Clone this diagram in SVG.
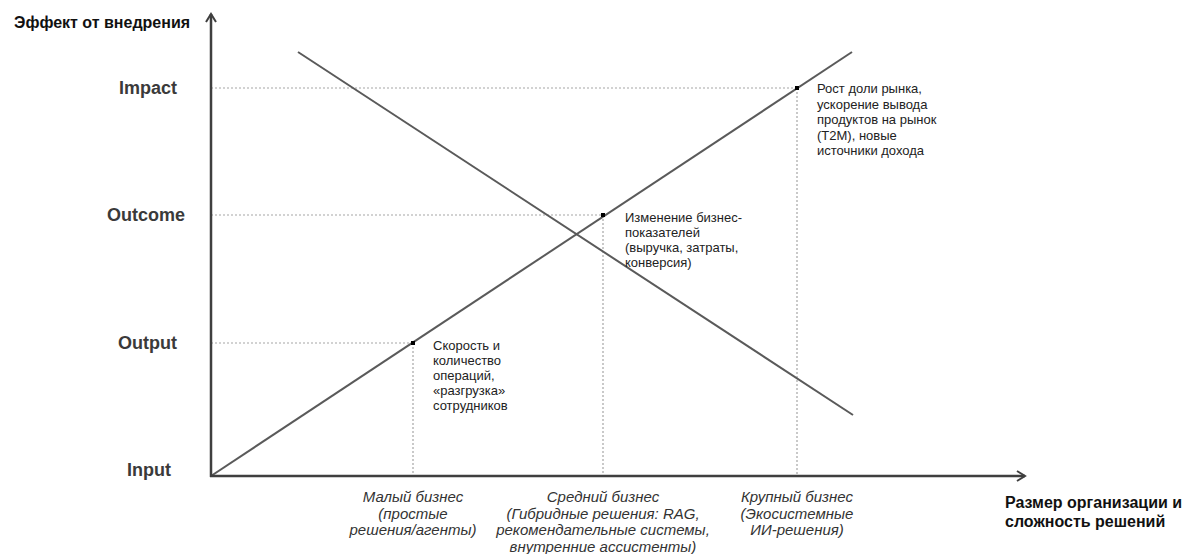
<svg xmlns="http://www.w3.org/2000/svg" width="1187" height="554" viewBox="0 0 1187 554">
<defs>
<style>
.axis{stroke:#3f3f3f;stroke-width:2.5;fill:none}
.line{stroke:#5a5a5a;stroke-width:2;fill:none}
.guide{stroke:#a6a6a6;stroke-width:1.2;stroke-dasharray:2,2;fill:none}
.lvl{font-family:"Liberation Sans",Arial,sans-serif;font-weight:bold;font-size:18px;fill:#3a3a3a;text-anchor:end}
.title{font-family:"Liberation Sans",Arial,sans-serif;font-weight:bold;font-size:16px;fill:#111}
.note{font-family:"Liberation Sans",Arial,sans-serif;font-size:13px;fill:#222}
.cat{font-family:"Liberation Sans",Arial,sans-serif;font-style:italic;font-size:15px;fill:#333;text-anchor:middle}
.pt{fill:#000}
</style>
<marker id="arr" viewBox="0 0 12 12" refX="10" refY="6" markerWidth="12" markerHeight="12" markerUnits="userSpaceOnUse" orient="auto">
<path d="M2,1 L10,6 L2,11" fill="none" stroke="#3f3f3f" stroke-width="2"/>
</marker>
</defs>
<g id="connectors">
<line class="guide" x1="211" y1="88" x2="797" y2="88"/>
<line class="guide" x1="211" y1="215" x2="603" y2="215"/>
<line class="guide" x1="211" y1="343" x2="413" y2="343"/>
<line class="guide" x1="797" y1="88" x2="797" y2="476"/>
<line class="guide" x1="603" y1="215" x2="603" y2="476"/>
<line class="guide" x1="413" y1="343" x2="413" y2="476"/>
<line class="line" x1="211" y1="476" x2="852" y2="52"/>
<line class="line" x1="298" y1="52" x2="853" y2="415"/>
<line class="axis" x1="211" y1="477" x2="211" y2="14" marker-end="url(#arr)"/>
<line class="axis" x1="210" y1="476" x2="1025" y2="476" marker-end="url(#arr)"/>
</g>
<g id="axis-y-title"><text class="title" x="14" y="28">Эффект от внедрения</text></g>
<g id="axis-x-title">
<text class="title" x="1005" y="508">Размер организации и</text>
<text class="title" x="1005" y="527">сложность решений</text>
</g>
<g id="level-impact"><text class="lvl" x="177" y="94">Impact</text></g>
<g id="level-outcome"><text class="lvl" x="185" y="221">Outcome</text></g>
<g id="level-output"><text class="lvl" x="177" y="349">Output</text></g>
<g id="level-input"><text class="lvl" x="171" y="476">Input</text></g>
<g id="point-small">
<rect class="pt" x="411" y="341" width="4" height="4"/>
<text class="note" x="433" y="350">Скорость и</text>
<text class="note" x="433" y="365">количество</text>
<text class="note" x="433" y="380">операций,</text>
<text class="note" x="433" y="395">«разгрузка»</text>
<text class="note" x="433" y="410">сотрудников</text>
</g>
<g id="point-medium">
<rect class="pt" x="601" y="213" width="4" height="4"/>
<text class="note" x="625" y="222">Изменение бизнес-</text>
<text class="note" x="625" y="237">показателей</text>
<text class="note" x="625" y="252">(выручка, затраты,</text>
<text class="note" x="625" y="267">конверсия)</text>
</g>
<g id="point-large">
<rect class="pt" x="795" y="86" width="4" height="4"/>
<text class="note" x="817" y="93">Рост доли рынка,</text>
<text class="note" x="817" y="108.5">ускорение вывода</text>
<text class="note" x="817" y="124">продуктов на рынок</text>
<text class="note" x="817" y="139.5">(T2M), новые</text>
<text class="note" x="817" y="155">источники дохода</text>
</g>
<g id="cat-small">
<text class="cat" x="413" y="502">Малый бизнес</text>
<text class="cat" x="413" y="518.5">(простые</text>
<text class="cat" x="413" y="535">решения/агенты)</text>
</g>
<g id="cat-medium">
<text class="cat" x="603" y="502">Средний бизнес</text>
<text class="cat" x="603" y="518.5">(Гибридные решения: RAG,</text>
<text class="cat" x="603" y="535">рекомендательные системы,</text>
<text class="cat" x="603" y="551.5">внутренние ассистенты)</text>
</g>
<g id="cat-large">
<text class="cat" x="797" y="502">Крупный бизнес</text>
<text class="cat" x="797" y="518.5">(Экосистемные</text>
<text class="cat" x="797" y="535">ИИ-решения)</text>
</g>
</svg>
